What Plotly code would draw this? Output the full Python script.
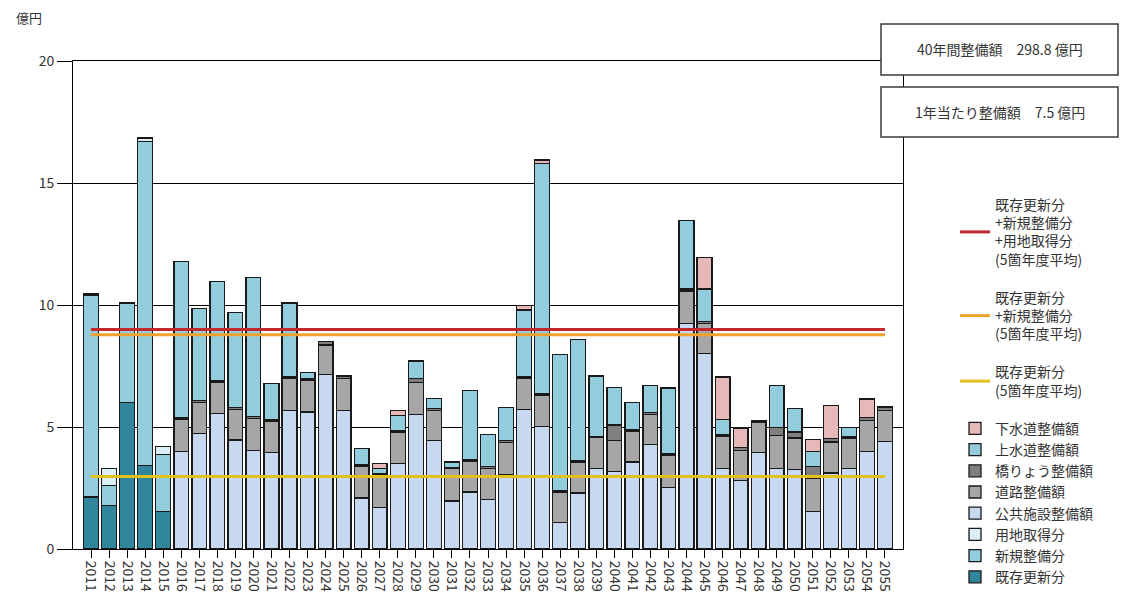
import plotly.graph_objects as go

# 年度
years = [str(y) for y in range(2011, 2056)]

# 整備額（億円）: 既存更新分・新規整備分・用地取得分（2011〜2015）
kizon_koshin = [2.13, 1.79, 6.01, 3.43, 1.54] + [None] * 40
shinki_seibi = [8.27, 0.82, 4.05, 13.28, 2.34] + [None] * 40
yochi_shutoku = [0.05, 0.70, 0.05, 0.14, 0.32] + [None] * 40

# 整備額（億円）: 2016〜2055 の内訳
kokyo_shisetsu = [None] * 5 + [
    3.99, 4.74, 5.56, 4.47, 4.05, 3.96, 5.68, 5.61, 7.15, 5.68,
    2.09, 1.69, 3.50, 5.51, 4.44, 1.97, 2.34, 2.02, 3.05, 5.73,
    5.02, 1.10, 2.30, 3.29, 3.17, 3.57, 4.27, 2.51, 9.25, 8.01,
    3.31, 2.81, 3.96, 3.30, 3.25, 1.53, 3.12, 3.30, 4.01, 4.41]
doro = [None] * 5 + [
    1.31, 1.25, 1.25, 1.26, 1.31, 1.29, 1.33, 1.32, 1.21, 1.30,
    1.31, 1.34, 1.27, 1.30, 1.24, 1.32, 1.27, 1.29, 1.32, 1.25,
    1.26, 1.24, 1.27, 1.27, 1.29, 1.24, 1.24, 1.31, 1.33, 1.24,
    1.29, 1.22, 1.25, 1.36, 1.30, 1.35, 1.26, 1.25, 1.25, 1.27]
kyoryo = [None] * 5 + [
    0.07, 0.09, 0.07, 0.07, 0.06, 0.07, 0.06, 0.07, 0.14, 0.11,
    0.06, 0.05, 0.07, 0.17, 0.07, 0.05, 0.07, 0.07, 0.09, 0.07,
    0.07, 0.07, 0.07, 0.05, 0.62, 0.07, 0.08, 0.07, 0.07, 0.07,
    0.07, 0.12, 0.05, 0.33, 0.24, 0.49, 0.14, 0.07, 0.14, 0.14]
josuido = [None] * 5 + [
    6.41, 3.79, 4.08, 3.90, 5.72, 1.46, 3.01, 0.24, None, None,
    0.67, 0.23, 0.63, 0.72, 0.43, 0.23, 2.81, 1.32, 1.34, 2.75,
    9.45, 5.56, 4.94, 2.48, 1.55, 1.13, 1.12, 2.71, 2.82, 1.33,
    0.63, None, None, 1.71, 0.98, 0.63, None, 0.37, None, None]
gesuido = [None] * 5 + [
    None, None, None, None, None, None, None, None, None, None,
    None, 0.19, 0.21, None, None, None, None, None, None, 0.19,
    0.14, None, None, None, None, None, None, None, None, 1.31,
    1.75, 0.81, None, None, None, 0.49, 1.36, None, 0.75, None]

# 5箇年度平均（億円）
avg_all = 9.0      # 既存更新分+新規整備分+用地取得分
avg_new = 8.78     # 既存更新分+新規整備分
avg_kizon = 2.97   # 既存更新分

total_40y = "298.8"
per_year = "7.5"

FONT = "Noto Sans CJK JP, Noto Sans, sans-serif"
TEXT = "#333333"

bar_series = [
    ("既存更新分", kizon_koshin, "#31859C"),
    ("新規整備分", shinki_seibi, "#93CDDD"),
    ("用地取得分", yochi_shutoku, "#DBEEF4"),
    ("公共施設整備額", kokyo_shisetsu, "#C6D9F1"),
    ("道路整備額", doro, "#A6A6A6"),
    ("橋りょう整備額", kyoryo, "#7F7F7F"),
    ("上水道整備額", josuido, "#93CDDD"),
    ("下水道整備額", gesuido, "#E6B9B8"),
]

avg_lines = [
    ("既存更新分<br>+新規整備分<br>+用地取得分<br>(5箇年度平均)", avg_all, "#C1272D", "g1"),
    ("既存更新分<br>+新規整備分<br>(5箇年度平均)", avg_new, "#EFA22C", "g2"),
    ("既存更新分<br>(5箇年度平均)", avg_kizon, "#E2C11C", "g3"),
]

fig = go.Figure()

# 平均線（凡例の上段に並べるため先に追加）
for name, val, color, grp in avg_lines:
    fig.add_trace(go.Scatter(
        x=[years[0], years[-1]], y=[val, val], name=name, legendgroup=grp,
        mode="lines", line=dict(color=color, width=3),
    ))

# 積み上げ棒
for name, vals, color in bar_series:
    fig.add_trace(go.Bar(
        x=years, y=vals, name=name, legendgroup="bars",
        marker=dict(color=color, line=dict(color="#1a1a1a", width=1.3)),
    ))

L, R, T, B = 73, 220, 61, 45
W, H = 1123, 594
pw, ph = W - L - R, H - T - B


def px_x(x):
    return (x - L) / pw


def px_y(y):
    return (H - B - y) / ph


box_x0, box_x1 = px_x(881), px_x(1118)
shapes = [
    dict(type="rect", xref="paper", yref="paper", x0=box_x0, x1=box_x1,
         y0=px_y(75), y1=px_y(24), line=dict(color="#3a3a3a", width=1.5),
         fillcolor="white", layer="above"),
    dict(type="rect", xref="paper", yref="paper", x0=box_x0, x1=box_x1,
         y0=px_y(137), y1=px_y(87), line=dict(color="#3a3a3a", width=1.5),
         fillcolor="white", layer="above"),
]

annotations = [
    dict(text=f"40年間整備額　{total_40y} 億円", xref="paper", yref="paper",
         x=(box_x0 + box_x1) / 2, y=px_y(49.5), showarrow=False,
         xanchor="center", yanchor="middle", font=dict(size=14, color=TEXT, family=FONT)),
    dict(text=f"1年当たり整備額　{per_year} 億円", xref="paper", yref="paper",
         x=(box_x0 + box_x1) / 2, y=px_y(112), showarrow=False,
         xanchor="center", yanchor="middle", font=dict(size=14, color=TEXT, family=FONT)),
    dict(text="億円", xref="paper", yref="paper", x=px_x(29), y=px_y(18),
         showarrow=False, xanchor="center", yanchor="middle",
         font=dict(size=13, color=TEXT, family=FONT)),
]

fig.update_layout(
    width=W, height=H, autosize=False,
    margin=dict(l=L, r=R, t=T, b=B, autoexpand=False),
    barmode="stack", bargap=0.18,
    plot_bgcolor="white", paper_bgcolor="white",
    font=dict(family=FONT, size=14, color=TEXT),
    shapes=shapes, annotations=annotations,
    legend=dict(
        x=px_x(955), y=px_y(189), xanchor="left", yanchor="top",
        traceorder="grouped+reversed", tracegroupgap=17,
        font=dict(size=14, color=TEXT, family=FONT),
        bgcolor="rgba(0,0,0,0)", borderwidth=0,
    ),
    xaxis=dict(
        type="category", categoryorder="array", categoryarray=years,
        range=[-1, 45], tickangle=90,
        showline=True, linecolor="black", linewidth=1, mirror=True,
        ticks="outside", ticklen=8, tickcolor="black", showgrid=False,
        tickfont=dict(size=14, color=TEXT, family=FONT), automargin=False,
    ),
    yaxis=dict(
        range=[0, 20], dtick=5, showgrid=True, gridcolor="black", gridwidth=1,
        showline=True, linecolor="black", linewidth=1, mirror=True,
        ticks="outside", ticklen=15, tickcolor="black",
        tickfont=dict(size=14, color=TEXT, family=FONT), automargin=False,
        zeroline=False,
    ),
)

fig.write_html("out.html")
